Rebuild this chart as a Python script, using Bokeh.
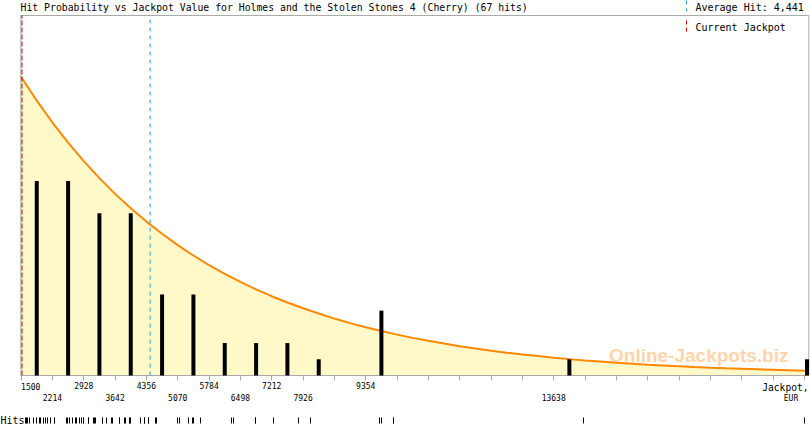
from bokeh.plotting import figure
from bokeh.models import Range1d, LinearAxis, FixedTicker, Label, Arrow
from bokeh.embed import file_html
from bokeh.resources import INLINE

TITLE = "Hit Probability vs Jackpot Value for Holmes and the Stolen Stones 4 (Cherry) (67 hits)"
AVERAGE_HIT = 4441
AVERAGE_TEXT = "Average Hit: 4,441"
CURRENT_JACKPOT = 1520
CURRENT_TEXT = "Current Jackpot"
AXIS_TEXT = "Jackpot,"
UNIT_TEXT = "EUR"
RUG_TEXT = "Hits"
WATERMARK = "Online-Jackpots.biz"

# bin edges (tick marks) of the x axis
bin_edges = [1500, 2214, 2928, 3642, 4356, 5070, 5784, 6498, 7212, 7926, 8640,
             9354, 10068, 10782, 11496, 12210, 12924, 13638, 14352, 15066, 15780,
             16494, 17208, 17922, 18636, 19350]
labels_row1 = [1500, 2928, 4356, 5784, 7212, 9354]
labels_row2 = [2214, 3642, 5070, 6498, 7926, 13638]

# hit counts per bin (bar positions = bin centres)
bar_x = [1857, 2571, 3285, 3999, 4713, 5427, 6141, 6855, 7569, 8283, 9711, 13995, 19410]
bar_counts = [12, 12, 10, 10, 5, 5, 2, 2, 2, 1, 4, 1, 1]

# probability curve (in bar-count units)
curve_x = [1500, 1857, 2214, 2571, 2928, 3285, 3642, 3999, 4356, 4713, 5070, 5427,
           5784, 6141, 6498, 6855, 7212, 7569, 7926, 8283, 8640, 8997, 9354, 9711,
           10068, 10425, 10782, 11139, 11496, 11853, 12210, 12567, 12924, 13281,
           13638, 13995, 14352, 14709, 15066, 15423, 15780, 16137, 16494, 16851,
           17208, 17565, 17922, 18279, 18636, 18993, 19350, 19451]
curve_y = [18.41, 16.95, 15.60, 14.36, 13.22, 12.17, 11.20, 10.31, 9.49, 8.74,
           8.04, 7.40, 6.81, 6.27, 5.77, 5.31, 4.89, 4.50, 4.15, 3.82, 3.51, 3.23,
           2.98, 2.74, 2.52, 2.32, 2.14, 1.97, 1.81, 1.67, 1.53, 1.41, 1.30, 1.20,
           1.10, 1.01, 0.93, 0.86, 0.79, 0.73, 0.67, 0.62, 0.57, 0.52, 0.48, 0.44,
           0.41, 0.38, 0.35, 0.32, 0.29, 0.28]

# individual hits (rug)
hits = [1593, 1615, 1638, 1702, 1780, 1848, 1923, 1935, 2008, 2060, 2113, 2174,
        2250, 2272, 2532, 2551, 2592, 2669, 2744, 2767, 2820, 2875, 2911, 2922,
        3025, 3041, 3155, 3171, 3185, 3344, 3360, 3452, 3559, 3577,
        3732, 3748, 3862, 3885, 3960, 3976, 3992, 4227, 4302, 4318,
        4398, 4414, 4569, 4585, 5060,
        5117, 5306, 5406, 5420, 5580,
        6303, 6333, 6834, 6850, 7250, 7820, 8089,
        9679, 9702, 9982, 9998, 14309, 19353]

# extent of the plotting box (data units)
BOX_X0, BOX_X1 = 1493, 19451
BOX_Y0, BOX_Y1 = 0, 22.2

GRAY = "#aaaaaa"
BLUE = "#2a96dc"
RED = "#c00000"
MONO = "DejaVu Sans Mono"

p = figure(width=810, height=425, output_backend="svg", toolbar_location=None,
           x_range=Range1d(1030.5, 19490), y_range=Range1d(-3.083, 23.125),
           x_axis_location=None, y_axis_location=None,
           min_border_left=0, min_border_right=0, min_border_top=0,
           min_border_bottom=0)
p.styles = {"position": "absolute", "left": "0px", "top": "0px"}
p.grid.visible = False
p.outline_line_color = None
p.background_fill_color = "white"
p.border_fill_color = "white"

p.varea(x=curve_x, y1=0, y2=curve_y, fill_color="#fff8c8")
p.quad(left=[BOX_X0], right=[BOX_X1], bottom=[BOX_Y0], top=[BOX_Y1],
       fill_color=None, line_color=GRAY, line_width=1)
p.line(x=curve_x, y=curve_y, line_color="#ff8800", line_width=2)
p.vbar(x=bar_x, top=bar_counts, width=91, fill_color="black", line_color=None)

p.segment(x0=[AVERAGE_HIT], y0=[BOX_Y0], x1=[AVERAGE_HIT], y1=[BOX_Y1],
          line_color=BLUE, line_dash="4 4", line_width=1)
p.segment(x0=[CURRENT_JACKPOT], y0=[BOX_Y0], x1=[CURRENT_JACKPOT], y1=[BOX_Y1],
          line_color=RED, line_dash="5 2", line_width=1)

# axis 1: tick marks + first row of labels (the 1500 label is placed separately)
ax = LinearAxis(ticker=FixedTicker(ticks=bin_edges), fixed_location=0,
                major_label_overrides={v: (str(v) if (v in labels_row1 and v != bin_edges[0]) else "")
                                       for v in bin_edges},
                axis_line_color=None, major_tick_line_color=GRAY,
                major_tick_in=0, major_tick_out=5, minor_tick_line_color=None,
                major_label_standoff=1, major_label_text_font=MONO,
                major_label_text_font_size="8px", major_label_text_color="black")
p.add_layout(ax, "below")

# axis 2: second row of labels
ax2 = LinearAxis(ticker=FixedTicker(ticks=labels_row2), fixed_location=0,
                 major_label_overrides={v: str(v) for v in labels_row2},
                 axis_line_color=None, major_tick_line_color=None,
                 minor_tick_line_color=None, major_tick_in=0, major_tick_out=0,
                 major_label_standoff=18, major_label_text_font=MONO,
                 major_label_text_font_size="8px", major_label_text_color="black")
p.add_layout(ax2, "below")

# axis 3: rug of individual hits
ax3 = LinearAxis(ticker=FixedTicker(ticks=hits), fixed_location=0,
                 major_label_overrides={h: "" for h in hits},
                 axis_line_color=None, major_tick_line_color="black",
                 major_tick_line_width=1, minor_tick_line_color=None,
                 major_tick_in=-42, major_tick_out=48, major_label_standoff=0,
                 major_label_text_font_size="1px")
p.add_layout(ax3, "below")

def lab(text, x, y, size, align="left", baseline="middle", font=MONO,
        color="black", style="normal", x_units="screen"):
    p.add_layout(Label(text=text, x=x, y=y, x_units=x_units, y_units="screen",
                       text_font=font, text_font_size=size, text_align=align,
                       text_baseline=baseline, text_color=color,
                       text_font_style=style))

# first tick label, left-aligned on its tick
lab(str(bin_edges[0]), bin_edges[0], 39.3, "8px", x_units="data")

lab(TITLE, 20, 418, "9.8px")
lab(AVERAGE_TEXT, 695, 418, "10px")
lab(CURRENT_TEXT, 695, 398, "10px")
lab(AXIS_TEXT, 808, 38.3, "9.6px", align="right")
lab(UNIT_TEXT, 790.5, 27.3, "8px", align="center")
lab(RUG_TEXT, 0, 5.5, "10px")
lab(WATERMARK, 788, 70, "19px", align="right", baseline="alphabetic",
    font="Liberation Sans", color="#fdd5a8", style="bold")

p.add_layout(Arrow(end=None, x_start=686, y_start=425, x_end=686, y_end=414,
                   start_units="screen", end_units="screen",
                   line_color=BLUE, line_dash="4 4", line_width=1))
p.add_layout(Arrow(end=None, x_start=686, y_start=405, x_end=686, y_end=392,
                   start_units="screen", end_units="screen",
                   line_color=RED, line_dash="4 3", line_width=1))

open("out.html", "w").write(file_html(p, INLINE))
